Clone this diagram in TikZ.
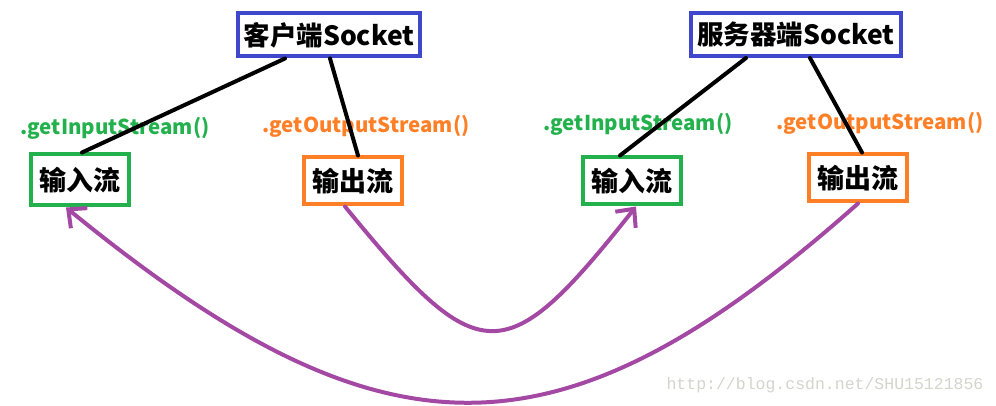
\documentclass[tikz,border=0pt]{standalone}
\usepackage{fontspec}
\usepackage{tikz}
\usetikzlibrary{arrows.meta, positioning}
\newfontfamily\cjk{Noto Sans CJK SC}
\newfontfamily\markfont{Liberation Mono}
\definecolor{sockblue}{HTML}{3F48CC}
\definecolor{ingreen}{HTML}{22B14C}
\definecolor{outorange}{HTML}{FF7F27}
\definecolor{flowpurple}{HTML}{A349A4}
\definecolor{markgray}{HTML}{D4D4CC}
\tikzset{
  socketbox/.style={draw=sockblue, line width=4pt, fill=white, inner xsep=6pt,
    minimum height=43pt, font=\cjk\bfseries\fontsize{26.5}{26.5}\selectfont},
  streambox/.style={line width=4pt, fill=white, minimum width=98pt,
    minimum height=47pt, font=\cjk\bfseries\fontsize{27}{27}\selectfont},
  inbox/.style={streambox, draw=ingreen},
  outbox/.style={streambox, draw=outorange},
  getlabel/.style={font=\cjk\bfseries\fontsize{20.5}{20.5}\selectfont},
  link/.style={line width=4pt, line cap=round},
  flow/.style={draw=flowpurple, line width=4pt, line cap=round,
    -{Straight Barb[length=14pt,width=26pt]}}
}

\begin{document}
\begin{tikzpicture}[x=1pt, y=-1pt]
        \useasboundingbox (0,0) rectangle (996,406);
        % the two sockets
        \node (client) at (329,35) [socketbox] {客户端Socket};
        \node (server) at (796,34.5) [socketbox] {服务器端Socket};
        % method names
        \node (getinL) at (115,128) [getlabel, text=ingreen] {.getInputStream()};
        \node (getoutL) at (366,126) [getlabel, text=outorange] {.getOutputStream()};
        \node (getinR) at (638,124) [getlabel, text=ingreen] {.getInputStream()};
        \node (getoutR) at (880,123) [getlabel, text=outorange] {.getOutputStream()};
        % the streams
        \node (inL) at (80,180) [inbox, minimum height=51pt] {输入流};
        \node (outL) at (353,181) [outbox] {输出流};
        \node (inR) at (632,181) [inbox] {输入流};
        \node (outR) at (858,178) [outbox] {输出流};
        \draw [link] ([xshift=-44pt]client.south) -- ([xshift=2pt]inL.north);
        \draw [link] ([xshift=1pt]client.south) -- ([xshift=5pt]outL.north);
        \draw [link] ([xshift=-50pt]server.south) -- ([xshift=-12pt]inR.north);
        \draw [link] ([xshift=14pt]server.south) -- ([xshift=4pt]outR.north);
        % data going across
        \draw [flow] ([xshift=-8pt]outL.south) .. controls (480,372) and (505,372) .. ([xshift=4pt]inR.south);
        \draw [flow] (outR.south) .. controls (560,468) and (385,468) .. ([xshift=-14pt]inL.south);
        \node (mark) at (825,385) [text=markgray, font=\markfont\fontsize{16.5}{16.5}\selectfont] {http://blog.csdn.net/SHU15121856};
    \end{tikzpicture}
\end{document}
